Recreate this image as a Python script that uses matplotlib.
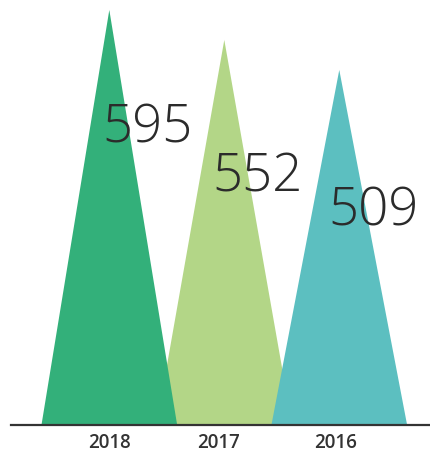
import matplotlib
matplotlib.use("Agg")
import matplotlib.pyplot as plt
from matplotlib.patches import Polygon

# Data
years = ["2018", "2017", "2016"]
values = [595, 552, 509]
colors = ["#33b07a", "#b3d687", "#5cbfc0"]
zorders = [3, 2, 3]          # 2017 sits behind its neighbours
label_drop = [189, 216, 221]  # how far below the apex the big number's baseline sits
label_shift = [-0.06, -0.1, -0.095]
year_shift = [0.0, -0.05, -0.03]

half_width = 0.59
text_color = "#2b2b2b"

fig = plt.figure(figsize=(4.30, 4.52), dpi=100)
ax = fig.add_axes([11 / 430, 26 / 452, 419 / 430, 426 / 452])

for i, (v, c, z) in enumerate(zip(values, colors, zorders)):
    tri = Polygon([(i - half_width, 0), (i, v), (i + half_width, 0)],
                  closed=True, facecolor=c, edgecolor="none", zorder=z)
    ax.add_patch(tri)
    ax.text(i + label_shift[i], v - label_drop[i], str(v), ha="left", va="baseline",
            fontsize=38, fontfamily="Open Sans", fontweight="light",
            color=text_color, zorder=5)

ax.set_xlim(-0.855, 2.789)
ax.set_ylim(0, 610.7)

ax.set_xticks([i + s for i, s in enumerate(year_shift)])
ax.set_xticklabels(years, fontfamily="Open Sans", fontweight="semibold",
                   fontsize=13.5, color="#333333")
ax.tick_params(axis="x", length=0, pad=5)
ax.set_yticks([])

for side in ["top", "left", "right"]:
    ax.spines[side].set_visible(False)
ax.spines["bottom"].set_color("#333333")
ax.spines["bottom"].set_linewidth(1.6)
ax.spines["bottom"].set_zorder(6)

fig.savefig("out.png", dpi=100)
